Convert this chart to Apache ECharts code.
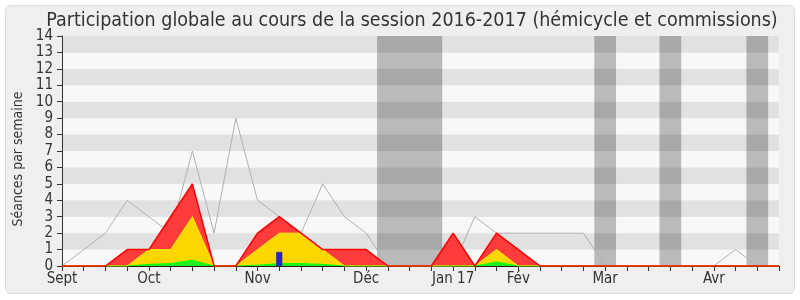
<!DOCTYPE html>
<html>
<head>
<meta charset="utf-8">
<script src="https://cdn.jsdelivr.net/npm/echarts@6/dist/echarts.min.js"></script>
<style>
  body { margin: 0; background: #fff; }
  #frame {
    position: absolute; left: 5px; top: 5px; width: 788px; height: 287px;
    border: 1px solid #dcdcdc; border-radius: 6px; background: #efefef;
  }
  #chart { position: absolute; left: 0; top: 0; width: 800px; height: 300px; }
</style>
</head>
<body>
<div id="frame"></div>
<div id="chart"></div>
<script>
// weeks 0..33, Sept 2016 -> Avr 2017
const weeks = Array.from({ length: 34 }, (_, i) => String(i));
const monthWeeks = [0, 4, 9, 14, 18, 21, 25, 30];
const monthLabels = ["Sept", "Oct", "Nov", "Déc", "Jan 17", "Fév", "Mar", "Avr"];

// stacked layers (séances par semaine)
const greenVals = [0, 0, 0, 0, 0.1, 0.15, 0.35, 0, 0, 0.05, 0.15, 0.15, 0.1, 0, 0, 0, 0, 0, 0, 0, 0.25, 0, 0, 0, 0, 0, 0, 0, 0, 0, 0, 0, 0, 0];
const yellowVals = [0, 0, 0, 0, 0.9, 0.85, 2.65, 0, 0, 0.95, 1.85, 1.85, 0.9, 0, 0, 0, 0, 0, 0, 0, 0.75, 0, 0, 0, 0, 0, 0, 0, 0, 0, 0, 0, 0, 0];
const redVals = [0, 0, 0, 1, 0, 2, 2, 0, 0, 1, 1, 0, 0, 1, 1, 0, 0, 0, 2, 0, 1, 1, 0, 0, 0, 0, 0, 0, 0, 0, 0, 0, 0, 0];
const totalVals = [0, 1, 2, 4, 3, 2, 7, 2, 9, 4, 3, 2, 5, 3, 2, 0, 0, 0, 0, 3, 2, 2, 2, 2, 2, 0, 0, 0, 0, 0, 0, 1, 0, 0];
const blueVals = [null, null, null, null, null, null, null, null, null, null, 0.85, null, null, null, null, null, null, null, null, null, null, null, null, null, null, null, null, null, null, null, null, null, null, null];

// vacances (start, end in weeks)
const holidays = [[14.5, 17.5], [24.5, 25.5], [27.5, 28.5], [31.5, 32.5]];

const chart = echarts.init(document.getElementById("chart"));

const font = "DejaVu Sans Condensed";

const option = {
  backgroundColor: "transparent",
  textStyle: { fontFamily: font },
  title: {
    text: "Participation globale au cours de la session 2016-2017 (hémicycle et commissions)",
    left: 407,
    textAlign: "center",
    top: 6,
    textStyle: { fontFamily: font, fontSize: 19.5, fontWeight: "normal", color: "#333" },
  },
  grid: { left: 62, right: 21, top: 36, bottom: 34 },
  xAxis: [
    {
      type: "category",
      data: weeks,
      boundaryGap: false,
      axisLine: { show: true, lineStyle: { color: "#2a1a10", width: 1 } },
      axisTick: { show: true, interval: 0, length: 5, lineStyle: { color: "#333" } },
      axisLabel: {
        interval: 0,
        fontSize: 15,
        color: "#333",
        margin: 6,
        formatter: function (v, idx) {
          const k = monthWeeks.indexOf(idx);
          return k >= 0 ? monthLabels[k] : "";
        },
      },
      splitLine: { show: false },
    },
    { type: "value", min: 0, max: 33, show: false },
  ],
  yAxis: {
    type: "value",
    min: 0,
    max: 14,
    interval: 1,
    name: "Séances par semaine",
    nameLocation: "middle",
    nameRotate: 90,
    nameGap: 36,
    nameTextStyle: { fontSize: 14, color: "#333", padding: [0, 16, 0, 0] },
    axisLine: { show: true, lineStyle: { color: "#333" } },
    axisTick: { show: true, length: 5, lineStyle: { color: "#333" } },
    axisLabel: { fontSize: 15, color: "#333", margin: 9 },
    splitLine: { show: false },
    splitArea: { show: true, areaStyle: { color: ["#f8f8f8", "#e1e1e1"] } },
  },
  series: [
    {
      name: "vacances",
      type: "line",
      xAxisIndex: 1,
      data: [],
      z: 1,
      silent: true,
      markArea: {
        silent: true,
        itemStyle: { color: "rgba(0,0,0,0.25)" },
        data: holidays.map((h) => [{ xAxis: h[0] }, { xAxis: h[1] }]),
      },
    },
    {
      name: "total",
      type: "line",
      data: totalVals,
      symbol: "none",
      z: 2,
      lineStyle: { color: "#b0b0b0", width: 1 },
    },
    {
      name: "vert",
      type: "line",
      stack: "s",
      data: greenVals,
      symbol: "none",
      z: 3,
      lineStyle: { color: "#00ff00", width: 1 },
      areaStyle: { color: "#22ee22", opacity: 1 },
    },
    {
      name: "jaune",
      type: "line",
      stack: "s",
      data: yellowVals,
      symbol: "none",
      z: 3,
      lineStyle: { color: "#ffee00", width: 1 },
      areaStyle: { color: "#ffd700", opacity: 1 },
    },
    {
      name: "rouge",
      type: "line",
      stack: "s",
      data: redVals,
      symbol: "none",
      z: 3,
      lineStyle: { color: "#ff0000", width: 1.5 },
      areaStyle: { color: "#ff3c3c", opacity: 1 },
    },
    {
      name: "bleu",
      type: "bar",
      data: blueVals,
      barWidth: 6,
      z: 4,
      itemStyle: { color: "#2424d8", borderColor: "#1010a0", borderWidth: 0.5 },
    },
  ],
};

chart.setOption(option);
</script>
</body>
</html>
